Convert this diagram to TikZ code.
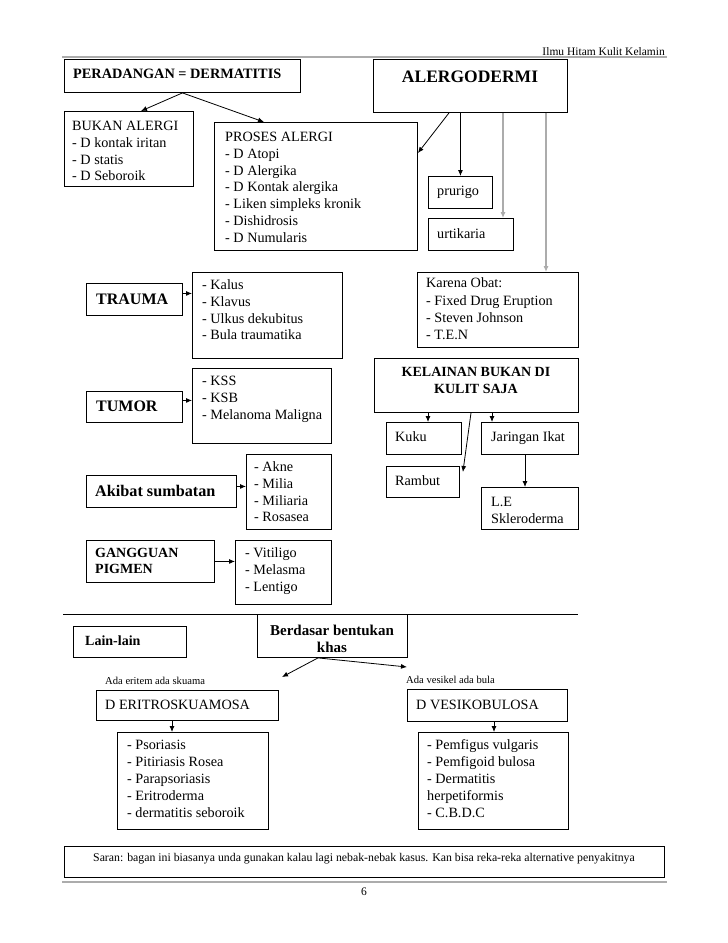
\documentclass[tikz,border=0pt]{standalone}
\usepackage{fontspec}
\setmainfont{Liberation Serif}
\usetikzlibrary{arrows.meta,calc}
\newcommand{\fm}{\fontsize{14.2}{16.7}\selectfont}
\begin{document}
\begin{tikzpicture}[x=1pt,y=-1pt,
  bx/.style={draw, line width=0.9pt, inner sep=0pt, anchor=north west},
  tl/.style={anchor=north west, align=left, inner sep=0pt, font=\fm},
  tb/.style={anchor=base west, inner sep=0pt, font=\fm},
  arr/.style={line width=0.8pt, -{Latex[length=6pt,width=5pt]}},
  garr/.style={arr, draw=gray!65, line width=1.1pt},
  rule/.style={draw=gray!65, line width=1.3pt}
]
\fill[white] (0,0) rectangle (728,943);
\useasboundingbox (0,0) rectangle (728,943);

% header
\node[anchor=base east, inner sep=0pt, font=\fontsize{11.5}{13}\selectfont] (hdr) at (665,55) {Ilmu Hitam Kulit Kelamin};
\draw[rule] (62,57) -- (667,57);

% PERADANGAN
\node[bx, minimum width=236pt, minimum height=33pt] (per) at (64,59) {};
\node[anchor=west, inner sep=0pt, font=\fontsize{14.3}{16}\selectfont\bfseries] (pert) at (73,74) {PERADANGAN = DERMATITIS};

% ALERGODERMI
\node[bx, minimum width=194pt, minimum height=53pt] (alg) at (373,59) {};
\node[anchor=center, inner sep=0pt, font=\fontsize{17.5}{20}\selectfont\bfseries] (algt) at (470,77) {ALERGODERMI};

% BUKAN ALERGI
\node[bx, minimum width=129pt, minimum height=75pt] (buk) at (64,111) {};
\node[tl] (bukt) at (72,119) {\strut BUKAN ALERGI\\- D kontak iritan\\- D statis\\- D Seboroik};

% PROSES ALERGI
\node[bx, minimum width=203pt, minimum height=128pt] (pro) at (214,122) {};
\node[tl] (prot) at (225,130) {\strut PROSES ALERGI\\- D Atopi\\- D Alergika\\- D Kontak alergika\\- Liken simpleks kronik\\- Dishidrosis\\- D Numularis};

% prurigo, urtikaria
\node[bx, minimum width=64pt, minimum height=32pt] (pru) at (428,176) {};
\node[tb] (prut) at (437,195) {prurigo};
\node[bx, minimum width=85pt, minimum height=32pt] (urt) at (428,218) {};
\node[tb] (urtt) at (437,238) {urtikaria};

% TRAUMA
\node[bx, minimum width=96pt, minimum height=32pt] (tra) at (86,283) {};
\node[anchor=west, inner sep=0pt, font=\fontsize{16}{19}\selectfont\bfseries] (trat) at (96,299) {TRAUMA};
\node[bx, minimum width=150pt, minimum height=86pt] (tral) at (192,272) {};
\node[tl] (tralt) at (202,278) {\strut - Kalus\\- Klavus\\- Ulkus dekubitus\\- Bula traumatika};

% TUMOR
\node[bx, minimum width=96pt, minimum height=31pt] (tum) at (86,391) {};
\node[anchor=west, inner sep=0pt, font=\fontsize{16}{19}\selectfont\bfseries] (tumt) at (96,406.5) {TUMOR};
\node[bx, minimum width=139pt, minimum height=75pt] (tuml) at (192,368) {};
\node[tl] (tumlt) at (202,374) {\strut - KSS\\- KSB\\- Melanoma Maligna};

% Akibat sumbatan
\node[bx, minimum width=150pt, minimum height=32pt] (aki) at (86,475) {};
\node[anchor=west, inner sep=0pt, font=\fontsize{16.2}{18}\selectfont\bfseries] (akit) at (95,491) {Akibat sumbatan};
\node[bx, minimum width=85pt, minimum height=75pt] (akil) at (246,454) {};
\node[tl] (akilt) at (254,460) {\strut - Akne\\- Milia\\- Miliaria\\- Rosasea};

% GANGGUAN PIGMEN
\node[bx, minimum width=128pt, minimum height=42pt] (gan) at (86,540) {};
\node[anchor=north west, align=left, inner sep=0pt, font=\fontsize{14}{16}\selectfont\bfseries] (gant) at (95,546.4) {\strut GANGGUAN\\PIGMEN};
\node[bx, minimum width=96pt, minimum height=64pt] (ganl) at (235,540) {};
\node[tl] (ganlt) at (245,546) {\strut - Vitiligo\\- Melasma\\- Lentigo};

% Karena Obat
\node[bx, minimum width=161pt, minimum height=75pt] (kar) at (417,272) {};
\node[tl, font=\fontsize{14.2}{17.3}\selectfont] (kart) at (426,275.5) {\strut Karena Obat:\\- Fixed Drug Eruption\\- Steven Johnson\\- T.E.N};

% KELAINAN BUKAN DI KULIT SAJA
\node[bx, minimum width=204pt, minimum height=54pt] (kel) at (374,358) {};
\node[anchor=north, align=center, inner sep=0pt, font=\fontsize{14}{17}\selectfont\bfseries] (kelt) at (476,364.7) {\strut KELAINAN BUKAN DI\\KULIT SAJA};

\node[bx, minimum width=75pt, minimum height=32pt] (kuk) at (386,422) {};
\node[tb] (kukt) at (395,441.5) {Kuku};
\node[bx, minimum width=97pt, minimum height=32pt] (jar) at (481,422) {};
\node[tb] (jart) at (491,441.5) {Jaringan Ikat};
\node[bx, minimum width=73pt, minimum height=31pt] (ram) at (386,466) {};
\node[tb] (ramt) at (395,485.5) {Rambut};
\node[bx, minimum width=97pt, minimum height=42pt] (le) at (481,487) {};
\node[tl] (let) at (491,495) {\strut L.E\\Skleroderma};

% divider
\draw[line width=0.9pt] (63,614) -- (578,614);

% Lain-lain, Berdasar
\node[bx, minimum width=113pt, minimum height=31pt] (lain) at (73,626) {};
\node[anchor=west, inner sep=0pt, font=\fontsize{14}{16}\selectfont\bfseries] (laint) at (85,641) {Lain-lain};
\node[bx, minimum width=150pt, minimum height=43pt] (ber) at (257,614) {};
\node[anchor=north, align=center, inner sep=0pt, font=\fontsize{15}{17}\selectfont\bfseries] (bert) at (332,623) {\strut Berdasar bentukan\\khas};

\node[anchor=base west, inner sep=0pt, font=\fontsize{10.6}{12}\selectfont] (lbl1) at (105,684.5) {Ada eritem ada skuama};
\node[anchor=base west, inner sep=0pt, font=\fontsize{10.6}{12}\selectfont] (lbl2) at (406,683.5) {Ada vesikel ada bula};

\node[bx, minimum width=182pt, minimum height=30pt] (eri) at (96,690) {};
\node[tb] (erit) at (105,709) {D ERITROSKUAMOSA};
\node[bx, minimum width=160pt, minimum height=32pt] (ves) at (407,689) {};
\node[tb] (vest) at (416,709) {D VESIKOBULOSA};

\node[bx, minimum width=151pt, minimum height=97pt] (pso) at (117,732) {};
\node[tl, font=\fontsize{14.2}{17}\selectfont] (psot) at (127,737.7) {\strut - Psoriasis\\- Pitiriasis Rosea\\- Parapsoriasis\\- Eritroderma\\- dermatitis seboroik};
\node[bx, minimum width=150pt, minimum height=97pt] (pem) at (418,732) {};
\node[tl, font=\fontsize{14.2}{17}\selectfont] (pemt) at (427,737.7) {\strut - Pemfigus vulgaris\\- Pemfigoid bulosa\\- Dermatitis\\herpetiformis\\- C.B.D.C};

% Saran
\node[bx, line width=1.2pt, minimum width=600pt, minimum height=31pt] (sar) at (64,846) {};
\node[anchor=center, inner sep=0pt, font=\fontsize{11.8}{13}\selectfont] (sart) at (364,858.5) {Saran: bagan ini biasanya unda gunakan kalau lagi nebak-nebak kasus. Kan bisa reka-reka alternative penyakitnya};
\draw[rule] (62,882) -- (667,882);
\node[anchor=center, inner sep=0pt, font=\fontsize{11.5}{13}\selectfont] (pg) at (364,892) {6};

% ---- connectors ----
\draw[arr] (per.south) -- ($(buk.north west)+(77,0)$);
\draw[arr] (per.south) -- ($(pro.north west)+(50,0)$);

\draw[arr] ($(alg.south west)+(76,0)$) -- ($(pro.north east)+(0,31)$);
\draw[arr] (pru.north |- alg.south) -- (pru.north);
\coordinate (u1) at ($(urt.north west)+(75,0)$);
\draw[garr] (u1 |- alg.south) -- (u1);
\coordinate (k0) at ($(kar.north west)+(129,0)$);
\draw[garr] (k0 |- alg.south) -- (k0);

\coordinate (ta) at ([yshift=6pt]tra.east);
\draw[arr] (ta) -- (ta -| tral.west);
\coordinate (tb) at ([yshift=6.5pt]tum.east);
\draw[arr] (tb) -- (tb -| tuml.west);
\coordinate (tc) at ([yshift=5pt]aki.east);
\draw[arr] (tc) -- (tc -| akil.west);
\draw[arr] (gan.east) -- (gan.east -| ganl.west);

\coordinate (c1) at ($(kel.south west)+(54,0)$);
\draw[arr] (c1) -- (c1 |- kuk.north);
\coordinate (c2) at ($(kel.south west)+(118,0)$);
\draw[arr] (c2) -- (c2 |- jar.north);
\coordinate (c3) at ($(kel.south west)+(97,0)$);
\coordinate (c3e) at ($(ram.north east)+(3,6)$);
\draw[arr] (c3) -- (c3e);
\coordinate (c4) at ($(jar.south west)+(44,0)$);
\draw[arr] (c4) -- (c4 |- le.north);

\coordinate (b0) at ($(ber.south west)+(61,0)$);
\coordinate (bl) at (282,677);
\coordinate (br) at (407,667);
\draw[arr] (b0) -- (bl);
\draw[arr] (b0) -- (br);
\coordinate (e1) at ($(eri.south west)+(76,0)$);
\draw[arr] (e1) -- (e1 |- pso.north);
\coordinate (v1) at ($(ves.south west)+(87,0)$);
\draw[arr] (v1) -- (v1 |- pem.north);
\end{tikzpicture}
\end{document}
